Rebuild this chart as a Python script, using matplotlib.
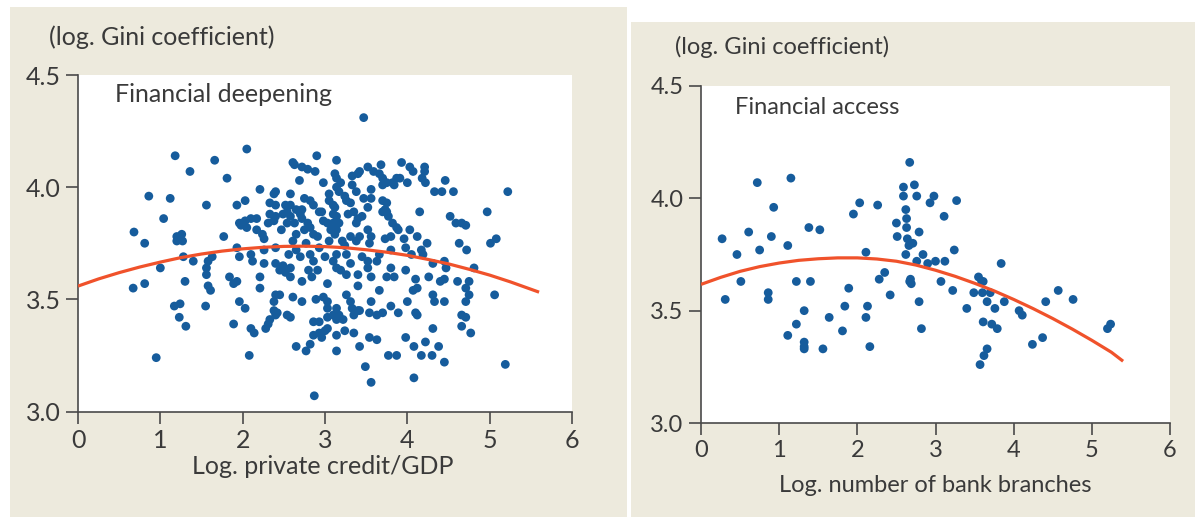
import matplotlib
matplotlib.use("Agg")
import matplotlib.pyplot as plt
from matplotlib.patches import Rectangle
import numpy as np

# Left panel: log private credit/GDP vs log Gini
deep_xy = [
    (3.47, 4.31), (2.05, 4.17), (1.18, 4.14), (2.90, 4.14), (1.66, 4.12), (2.61, 4.11),
    (2.63, 4.10), (3.14, 4.12), (3.93, 4.11), (3.68, 4.10), (4.21, 4.09), (4.21, 4.07),
    (2.72, 4.09), (2.79, 4.08), (2.88, 4.07), (1.36, 4.07), (3.42, 4.07), (3.52, 4.09),
    (3.59, 4.07), (4.03, 4.09), (4.07, 4.07), (3.12, 4.06), (3.14, 4.04), (3.33, 4.05),
    (3.40, 4.06), (3.66, 4.06), (3.70, 4.04), (3.75, 4.02), (3.87, 4.04), (3.91, 4.04),
    (4.18, 4.04), (4.22, 4.02), (4.46, 4.03), (1.81, 4.04), (2.69, 4.03), (2.98, 4.02),
    (3.19, 4.02), (3.82, 4.02), (3.84, 4.01), (4.00, 4.02), (2.21, 3.99), (3.14, 4.00),
    (3.17, 3.98), (3.33, 4.01), (3.38, 3.98), (3.56, 3.99), (3.70, 4.01), (4.33, 3.98),
    (4.42, 3.98), (4.56, 3.98), (5.22, 3.98), (0.86, 3.96), (1.12, 3.95), (2.38, 3.97),
    (2.40, 3.98), (2.58, 3.97), (2.75, 3.95), (2.82, 3.94), (3.05, 3.97), (3.24, 3.96),
    (3.47, 3.95), (3.56, 3.95), (3.70, 3.94), (3.75, 3.93), (3.05, 3.94), (3.10, 3.92),
    (3.26, 3.94), (3.31, 3.93), (1.56, 3.92), (1.93, 3.92), (2.03, 3.94), (2.33, 3.93),
    (2.40, 3.92), (2.52, 3.92), (2.58, 3.92), (2.65, 3.90), (2.72, 3.90), (2.86, 3.92),
    (2.93, 3.89), (3.12, 3.91), (3.52, 3.91), (3.70, 3.89), (3.73, 3.90), (4.15, 3.89),
    (4.97, 3.89), (1.04, 3.86), (2.33, 3.88), (2.40, 3.87), (2.49, 3.88), (2.54, 3.89),
    (2.58, 3.87), (2.70, 3.88), (2.72, 3.86), (2.96, 3.89), (2.98, 3.85), (3.10, 3.88),
    (3.14, 3.87), (3.28, 3.88), (3.35, 3.89), (3.40, 3.86), (3.45, 3.87), (3.75, 3.89),
    (3.77, 3.87), (4.52, 3.87), (4.59, 3.84), (4.66, 3.84), (4.71, 3.83), (1.96, 3.84),
    (2.03, 3.85), (2.10, 3.86), (2.17, 3.86), (2.31, 3.84), (2.38, 3.85), (2.54, 3.84),
    (2.63, 3.84), (2.79, 3.84), (2.82, 3.82), (3.03, 3.84), (3.10, 3.84), (3.17, 3.84),
    (3.14, 3.81), (3.38, 3.84), (3.82, 3.84), (3.87, 3.82), (0.68, 3.80), (0.81, 3.75),
    (1.20, 3.78), (1.23, 3.77), (1.26, 3.79), (1.20, 3.76), (1.27, 3.76), (1.77, 3.78),
    (1.98, 3.83), (2.05, 3.82), (2.17, 3.81), (2.24, 3.79), (2.26, 3.77), (2.47, 3.81),
    (2.61, 3.76), (2.65, 3.79), (2.75, 3.81), (2.77, 3.75), (2.86, 3.79), (2.91, 3.78),
    (3.05, 3.76), (3.07, 3.81), (3.12, 3.79), (3.21, 3.76), (3.24, 3.74), (3.31, 3.78),
    (3.38, 3.76), (3.42, 3.78), (3.52, 3.81), (3.56, 3.78), (3.54, 3.75), (3.73, 3.77),
    (3.80, 3.78), (3.89, 3.81), (3.96, 3.77), (4.03, 3.81), (4.12, 3.78), (4.24, 3.75),
    (4.63, 3.75), (4.72, 3.72), (5.01, 3.75), (5.08, 3.77), (1.40, 3.67), (1.28, 3.69),
    (1.58, 3.67), (1.63, 3.69), (1.93, 3.73), (1.96, 3.69), (2.10, 3.70), (2.12, 3.67),
    (2.26, 3.72), (2.26, 3.66), (2.40, 3.73), (2.40, 3.66), (2.49, 3.65), (2.56, 3.70),
    (2.65, 3.72), (2.70, 3.69), (2.82, 3.70), (2.86, 3.67), (2.93, 3.73), (3.00, 3.69),
    (3.10, 3.67), (3.14, 3.70), (3.26, 3.70), (3.31, 3.66), (3.45, 3.69), (3.52, 3.67),
    (3.63, 3.67), (3.66, 3.70), (3.80, 3.72), (3.98, 3.73), (4.05, 3.70), (4.17, 3.72),
    (4.19, 3.70), (4.31, 3.66), (4.45, 3.67), (4.47, 3.64), (1.00, 3.64), (0.67, 3.55),
    (0.81, 3.57), (1.30, 3.58), (1.56, 3.64), (1.56, 3.61), (1.58, 3.56), (1.61, 3.54),
    (1.84, 3.60), (1.89, 3.57), (1.93, 3.58), (2.21, 3.60), (2.21, 3.55), (2.45, 3.63),
    (2.52, 3.62), (2.58, 3.64), (2.58, 3.60), (2.72, 3.58), (2.84, 3.60), (2.80, 3.63),
    (2.91, 3.63), (3.03, 3.57), (3.14, 3.64), (3.19, 3.63), (3.26, 3.61), (3.40, 3.61),
    (3.40, 3.56), (3.52, 3.64), (3.56, 3.60), (3.75, 3.60), (3.80, 3.64), (3.84, 3.60),
    (3.98, 3.63), (4.10, 3.59), (4.12, 3.55), (4.26, 3.60), (4.40, 3.58), (4.45, 3.59),
    (4.61, 3.58), (4.71, 3.55), (4.75, 3.58), (4.81, 3.64), (1.17, 3.47), (1.24, 3.48),
    (1.55, 3.47), (1.96, 3.49), (2.03, 3.46), (2.40, 3.52), (2.45, 3.52), (2.38, 3.49),
    (2.61, 3.51), (2.72, 3.49), (2.89, 3.50), (2.98, 3.51), (3.03, 3.49), (3.03, 3.46),
    (3.14, 3.46), (3.26, 3.52), (3.31, 3.49), (3.33, 3.46), (3.42, 3.45), (3.56, 3.49),
    (3.66, 3.54), (3.80, 3.47), (4.00, 3.49), (4.07, 3.54), (4.31, 3.52), (4.33, 3.49),
    (4.45, 3.49), (4.71, 3.49), (4.75, 3.52), (5.06, 3.52), (1.23, 3.42), (1.31, 3.38),
    (1.89, 3.39), (2.31, 3.39), (2.33, 3.41), (2.38, 3.45), (2.40, 3.43), (2.42, 3.44),
    (2.54, 3.43), (2.58, 3.42), (2.86, 3.40), (2.93, 3.40), (3.03, 3.42), (3.10, 3.43),
    (3.17, 3.43), (3.14, 3.41), (3.22, 3.41), (3.35, 3.43), (3.40, 3.45), (3.54, 3.44),
    (3.63, 3.43), (3.70, 3.44), (3.89, 3.44), (4.10, 3.44), (4.12, 3.43), (4.31, 3.37),
    (4.66, 3.43), (4.71, 3.42), (4.66, 3.38), (4.77, 3.35), (0.95, 3.24), (2.10, 3.37),
    (2.14, 3.35), (2.28, 3.37), (2.08, 3.25), (2.65, 3.29), (2.77, 3.27), (2.82, 3.30),
    (2.86, 3.34), (2.93, 3.35), (3.00, 3.36), (2.96, 3.33), (3.03, 3.37), (3.14, 3.34),
    (3.14, 3.27), (3.24, 3.36), (3.35, 3.35), (3.42, 3.29), (3.54, 3.33), (3.63, 3.32),
    (3.49, 3.20), (3.56, 3.13), (3.77, 3.25), (3.87, 3.25), (3.98, 3.33), (4.08, 3.29),
    (4.17, 3.25), (4.22, 3.31), (4.30, 3.25), (4.38, 3.29), (4.08, 3.15), (4.45, 3.22),
    (5.19, 3.21), (2.87, 3.07),
]

# Right panel: log number of bank branches vs log Gini
access_xy = [
    (0.27, 3.82), (0.31, 3.55), (0.46, 3.75), (0.51, 3.63), (0.61, 3.85), (0.72, 4.07),
    (0.75, 3.77), (0.86, 3.58), (0.86, 3.55), (0.90, 3.83), (0.93, 3.96), (1.11, 3.79),
    (1.15, 4.09), (1.11, 3.39), (1.22, 3.63), (1.22, 3.44), (1.32, 3.50), (1.32, 3.36),
    (1.32, 3.33), (1.32, 3.34), (1.38, 3.87), (1.40, 3.63), (1.52, 3.86), (1.56, 3.33),
    (1.64, 3.47), (1.81, 3.41), (1.84, 3.52), (1.89, 3.60), (1.95, 3.93), (2.03, 3.98),
    (2.11, 3.76), (2.11, 3.47), (2.13, 3.52), (2.16, 3.34), (2.26, 3.97), (2.28, 3.64),
    (2.35, 3.67), (2.42, 3.57), (2.50, 3.89), (2.51, 3.83), (2.59, 4.05), (2.59, 4.01),
    (2.62, 3.95), (2.63, 3.91), (2.63, 3.87), (2.64, 3.82), (2.66, 3.79), (2.68, 3.80),
    (2.71, 3.80), (2.62, 3.75), (2.67, 4.16), (2.67, 3.63), (2.69, 3.62), (2.68, 3.64),
    (2.73, 4.06), (2.76, 4.01), (2.76, 3.72), (2.79, 3.85), (2.79, 3.54), (2.82, 3.42),
    (2.84, 3.75), (2.90, 3.71), (2.93, 3.98), (2.98, 4.01), (3.00, 3.72), (3.07, 3.63),
    (3.11, 3.92), (3.12, 3.72), (3.22, 3.59), (3.24, 3.77), (3.27, 3.99), (3.40, 3.51),
    (3.49, 3.58), (3.55, 3.65), (3.59, 3.63), (3.61, 3.63), (3.57, 3.26), (3.61, 3.45),
    (3.62, 3.30), (3.66, 3.33), (3.60, 3.58), (3.66, 3.54), (3.70, 3.58), (3.72, 3.44),
    (3.76, 3.51), (3.79, 3.42), (3.84, 3.71), (3.88, 3.54), (4.07, 3.50), (4.11, 3.48),
    (4.24, 3.35), (4.37, 3.38), (4.41, 3.54), (4.57, 3.59), (4.76, 3.55), (5.20, 3.42),
    (5.24, 3.44),
]

# Fitted curves
deep_fit_x = [0.0, 0.25, 0.5, 0.75, 1.0, 1.25, 1.5, 1.75, 2.0, 2.25, 2.5, 2.75,
              3.0, 3.25, 3.5, 3.75, 4.0, 4.25, 4.5, 4.75, 5.0, 5.25, 5.6]
deep_fit_y = [3.559, 3.591, 3.619, 3.644, 3.666, 3.686, 3.702, 3.715, 3.725, 3.732, 3.736, 3.737,
              3.735, 3.730, 3.721, 3.710, 3.696, 3.678, 3.658, 3.634, 3.608, 3.578, 3.532]
access_fit_x = [0.0, 0.25, 0.5, 0.75, 1.0, 1.25, 1.5, 1.75, 2.0, 2.25, 2.5, 2.75,
                3.0, 3.25, 3.5, 3.75, 4.0, 4.25, 4.5, 4.75, 5.0, 5.25, 5.4]
access_fit_y = [3.617, 3.648, 3.675, 3.696, 3.712, 3.724, 3.731, 3.735, 3.735, 3.730, 3.720, 3.703,
                3.680, 3.653, 3.622, 3.588, 3.550, 3.509, 3.465, 3.418, 3.368, 3.315, 3.275]

y_ticks = [3.0, 3.5, 4.0, 4.5]
x_ticks = [0, 1, 2, 3, 4, 5, 6]

BEIGE = "#edeadd"
DOT = "#165c9c"
CURVE = "#f0522b"
TEXT = "#3a3a3a"
AXIS = "#4a4a4a"

plt.rcParams["font.family"] = ["Lato", "DejaVu Sans"]

W, H = 1195, 517
fig = plt.figure(figsize=(W / 100, H / 100), dpi=100, facecolor="white")


def px_box(x0, y0, x1, y1):
    return [x0 / W, 1 - y1 / H, (x1 - x0) / W, (y1 - y0) / H]


def ftext(x, y, s, size, ha="left"):
    fig.text(x / W, 1 - y / H, s, ha=ha, va="center", fontsize=size, color=TEXT)


for x0, y0, x1, y1 in [(10, 7, 627, 517), (631, 22, 1195, 517)]:
    b = px_box(x0, y0, x1, y1)
    fig.patches.append(Rectangle((b[0], b[1]), b[2], b[3], transform=fig.transFigure,
                                 facecolor=BEIGE, edgecolor="none", zorder=-10))


def style_axes(ax, size):
    ax.set_facecolor("white")
    ax.set_xlim(0, 6)
    ax.set_ylim(3.0, 4.5)
    for side in ["top", "right"]:
        ax.spines[side].set_visible(False)
    for side in ["left", "bottom"]:
        ax.spines[side].set_color(AXIS)
        ax.spines[side].set_linewidth(1.2)
    ax.set_xticks(x_ticks)
    ax.set_yticks(y_ticks)
    ax.set_yticklabels([f"{v:.1f}" for v in y_ticks])
    ax.tick_params(direction="out", length=8.5, width=1.2, color=AXIS,
                   labelsize=size, labelcolor=TEXT)
    ax.tick_params(axis="x", pad=4)
    ax.tick_params(axis="y", pad=4)


ax1 = fig.add_axes(px_box(78, 75, 572, 411.5))
style_axes(ax1, 18)
deep = np.array(deep_xy)
ax1.scatter(deep[:, 0], deep[:, 1], s=40, color=DOT, edgecolors="none", zorder=3)
ax1.plot(deep_fit_x, deep_fit_y, color=CURVE, lw=2.3, zorder=4, solid_capstyle="butt")

ax2 = fig.add_axes(px_box(701, 86, 1170, 423))
style_axes(ax2, 17)
acc = np.array(access_xy)
ax2.scatter(acc[:, 0], acc[:, 1], s=40, color=DOT, edgecolors="none", zorder=3)
ax2.plot(access_fit_x, access_fit_y, color=CURVE, lw=2.3, zorder=4, solid_capstyle="butt")

ftext(49, 37, "(log. Gini coefficient)", 18)
ftext(115, 95, "Financial deepening", 18)
ftext(323, 467, "Log. private credit/GDP", 18, ha="center")

ftext(675, 47, "(log. Gini coefficient)", 17)
ftext(735, 107, "Financial access", 17)
ftext(935, 485, "Log. number of bank branches", 17, ha="center")

fig.savefig("out.png", dpi=100, facecolor="white")
